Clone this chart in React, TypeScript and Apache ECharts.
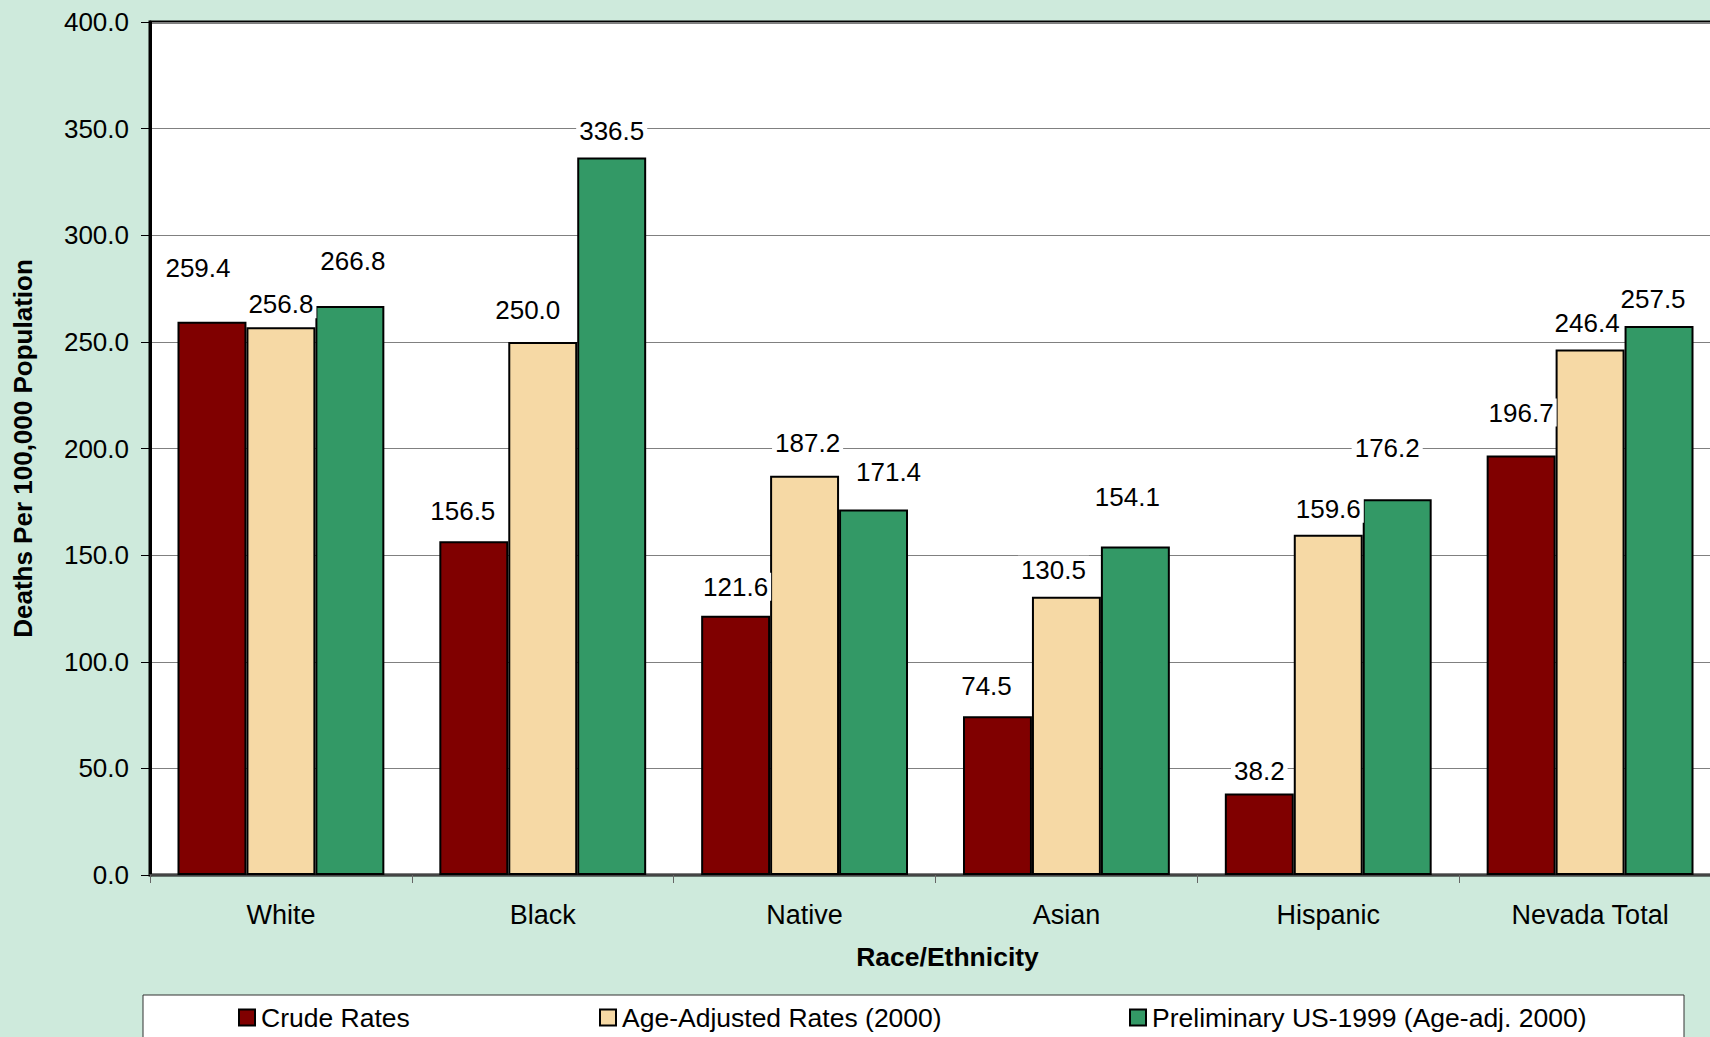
import React, { useEffect, useRef } from "react";
import * as echarts from "echarts";

const categories = ["White", "Black", "Native", "Asian", "Hispanic", "Nevada Total"];
const seriesNames = ["Crude Rates", "Age-Adjusted Rates (2000)", "Preliminary US-1999 (Age-adj. 2000)"];
const crudeRates = [259.4, 156.5, 121.6, 74.5, 38.2, 196.7];
const ageAdjusted = [256.8, 250.0, 187.2, 130.5, 159.6, 246.4];
const preliminaryUS = [266.8, 336.5, 171.4, 154.1, 176.2, 257.5];
const yTicks = [0, 50, 100, 150, 200, 250, 300, 350, 400];

// label nudges (dx, dy) in px, mimicking the hand-placed labels of the original
const crudeLabelShift = [[-14, -36], [-11, -12], [0, -11], [-11, -12], [0, -5], [0, -25]];
const ageLabelShift = [[0, -5], [-15, -14], [3, -15], [-13, -9], [0, -8], [-3, -9]];
const prelimLabelShift = [[3, -27], [0, -8], [15, -19], [-8, -31], [-10, -33], [-6, -9]];

const colors = ["#800000", "#F6D9A5", "#339966"];
const FONT = "'Liberation Sans', Arial, sans-serif";

export default function App() {
  const ref = useRef<HTMLDivElement>(null);
  useEffect(() => {
    if (!ref.current) return;
    const chart = echarts.init(ref.current, undefined, { renderer: "svg" });
    const mk = (name: string, values: number[], shifts: number[][], color: string) => ({
      type: "bar",
      name,
      data: values.map((v, i) => ({
        value: v,
        label: { offset: shifts[i] },
      })),
      barGap: "0%",
      barCategoryGap: "21%",
      itemStyle: { color, borderColor: "#000", borderWidth: 2 },
      label: {
        show: true,
        position: "top",
        distance: 4,
        formatter: (p: any) => Number(p.value).toFixed(1),
        fontSize: 26,
        fontFamily: FONT,
        color: "#000",
        backgroundColor: "#fff",
        padding: [1, 3],
      },
    });
    const legendLefts = [238, 599, 1129];
    chart.setOption({
      animation: false,
      backgroundColor: "#CEEADC",
      textStyle: { fontFamily: FONT },
      grid: {
        left: 150,
        top: 22,
        right: -11,
        bottom: 162,
        show: true,
        backgroundColor: "#fff",
        borderColor: "#000",
        borderWidth: 3,
        outerBoundsMode: "none",
        containLabel: false,
      },
      legend: seriesNames.map((n, i) => ({
        data: [n],
        left: legendLefts[i],
        top: 1004,
        padding: 0,
        icon: "rect",
        itemWidth: 16,
        itemHeight: 16,
        itemGap: 6,
        z: 10,
        itemStyle: { borderColor: "#000", borderWidth: 2 },
        textStyle: { fontSize: 26.5, fontFamily: FONT, color: "#000", padding: [0, 0, 0, 1] },
      })),
      graphic: [
        {
          type: "rect",
          z: 1,
          shape: { x: 143, y: 995, width: 1541, height: 60 },
          style: { fill: "#fff", stroke: "#333", lineWidth: 1 },
        },
      ],
      xAxis: {
        type: "category",
        data: categories,
        name: "Race/Ethnicity",
        nameLocation: "middle",
        nameGap: 68,
        nameTextStyle: {
          fontSize: 26.5,
          fontWeight: "bold",
          color: "#000",
          fontFamily: FONT,
          padding: [0, 0, 0, 24],
        },
        axisLine: { lineStyle: { color: "#444", width: 2 } },
        axisTick: { show: true, length: 8, lineStyle: { color: "#666", width: 1 } },
        axisLabel: { fontSize: 27, color: "#000", margin: 26, fontFamily: FONT },
      },
      yAxis: {
        type: "value",
        min: yTicks[0],
        max: yTicks[yTicks.length - 1],
        interval: 50,
        name: "Deaths Per 100,000 Population",
        nameLocation: "middle",
        nameGap: 114,
        nameRotate: 90,
        nameTextStyle: { fontSize: 26, fontWeight: "bold", color: "#000", fontFamily: FONT },
        axisLine: { show: true, lineStyle: { color: "#000", width: 3 } },
        axisTick: { show: true, length: 9, lineStyle: { color: "#000", width: 1 } },
        axisLabel: {
          fontSize: 26,
          color: "#000",
          margin: 21,
          fontFamily: FONT,
          formatter: (v: number) => v.toFixed(1),
        },
        splitLine: { lineStyle: { color: "#808080", width: 1 } },
      },
      series: [
        mk(seriesNames[0], crudeRates, crudeLabelShift, colors[0]),
        mk(seriesNames[1], ageAdjusted, ageLabelShift, colors[1]),
        mk(seriesNames[2], preliminaryUS, prelimLabelShift, colors[2]),
      ],
    });
    return () => chart.dispose();
  }, []);
  return (
    <div
      ref={ref}
      style={{ position: "fixed", left: 0, top: 0, width: 1710, height: 1037 }}
    />
  );
}
